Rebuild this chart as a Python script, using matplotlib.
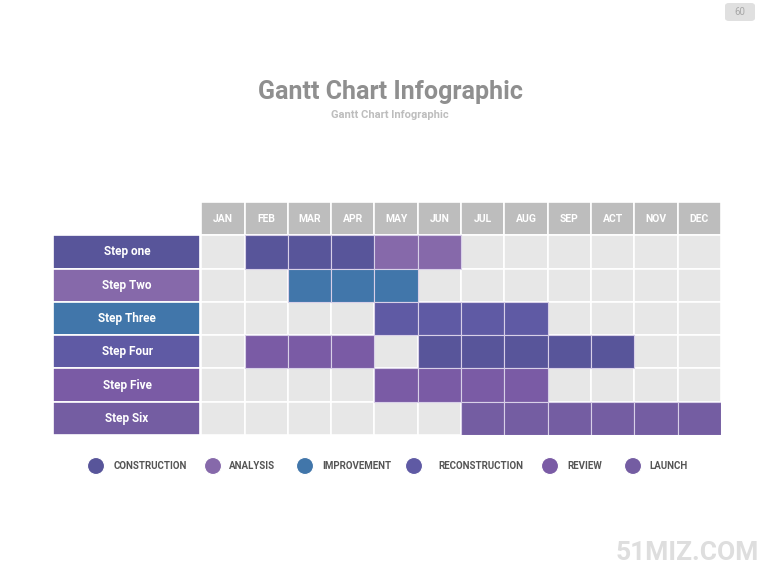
import matplotlib
matplotlib.use("Agg")
import matplotlib.pyplot as plt
from matplotlib.patches import Rectangle, FancyBboxPatch

plt.rcParams['font.family'] = ['Roboto', 'DejaVu Sans']

# ---------------- data ----------------
months = ["JAN", "FEB", "MAR", "APR", "MAY", "JUN", "JUL", "AUG", "SEP", "ACT", "NOV", "DEC"]
steps = ["Step one", "Step Two", "Step Three", "Step Four", "Step Five", "Step Six"]
categories = ["CONSTRUCTION", "ANALYSIS", "IMPROVEMENT", "RECONSTRUCTION", "REVIEW", "LAUNCH"]
category_colors = ["#58559A", "#8669AA", "#4176AA", "#5F5AA4", "#7A5BA5", "#745DA2"]
step_colors = ["#58559A", "#8669AA", "#4176AA", "#5F5AA4", "#7A5BA5", "#745DA2"]

# spans: (step index, first month index, last month index inclusive, category index)
span_step = [0, 0, 1, 2, 3, 3, 4, 5]
span_start = [1, 4, 2, 4, 1, 5, 4, 6]
span_end = [3, 5, 4, 7, 3, 9, 7, 11]
span_cat = [0, 1, 2, 3, 4, 0, 4, 5]

title = "Gantt Chart Infographic"
subtitle = "Gantt Chart Infographic"
page_no = "60"
watermark = "51MIZ.COM"

# ---------------- layout ----------------
W, H = 780, 585
legend_marker_x = [96, 213, 305, 414, 550, 633]     # pixel layout of legend items
legend_text_x = [114, 229, 322, 438, 567, 649]
legend_y = 466

fig = plt.figure(figsize=(W / 100, H / 100), dpi=100)
fig.patch.set_facecolor("white")

# grid axes: x in month units, y in row units (row 0 = header)
label_w = 148 / 43.25
ax = fig.add_axes([53 / W, (H - 435) / H, (721 - 53) / W, (435 - 202) / H])
ax.set_xlim(-label_w, 12)
ax.set_ylim(len(steps) + 1, 0)
ax.axis("off")

gap = dict(edgecolor="white", linewidth=1.2)

# header
for i, m in enumerate(months):
    ax.add_patch(Rectangle((i, 0), 1, 1, facecolor="#BDBDBD", **gap))
    ax.text(i + 0.5, 0.5, m, ha="center", va="center", color="white",
            fontsize=7.5, fontweight="bold")

# background cells and step labels
for r, s in enumerate(steps):
    y = r + 1
    ax.add_patch(Rectangle((-label_w, y), label_w - 0.03, 1, facecolor=step_colors[r], **gap))
    ax.text(-label_w / 2, y + 0.5, s, ha="center", va="center", color="white",
            fontsize=8.5, fontweight="bold")
    for i in range(len(months)):
        ax.add_patch(Rectangle((i, y), 1, 1, facecolor="#E7E7E7", **gap))

# spans
for st, a, b, c in zip(span_step, span_start, span_end, span_cat):
    for i in range(a, b + 1):
        ax.add_patch(Rectangle((i, st + 1), 1, 1, facecolor=category_colors[c],
                               edgecolor="#D8D0E8", linewidth=0.8))

# legend (pixel-positioned overlay axes)
lax = fig.add_axes([0, 0, 1, 1])
lax.set_xlim(0, W)
lax.set_ylim(H, 0)
lax.axis("off")
lax.scatter(legend_marker_x, [legend_y] * len(categories), s=150, c=category_colors,
            edgecolors="white", linewidths=0.8, zorder=3)
for tx, lab in zip(legend_text_x, categories):
    lax.text(tx, legend_y, lab, ha="left", va="center", fontsize=7, fontweight="bold",
             color="#555555")

# titles
fig.text(390 / W, 1 - 92 / H, title, ha="center", va="center", fontsize=18,
         fontweight="bold", color="#8F8F8F")
fig.text(390 / W, 1 - 115 / H, subtitle, ha="center", va="center", fontsize=8,
         fontweight="bold", color="#BDBDBD")

# page number box
fig.patches.append(FancyBboxPatch((725 / W, 1 - 21 / H), 30 / W, 18 / H,
                                  boxstyle="round,pad=0,rounding_size=0.005",
                                  transform=fig.transFigure, facecolor="#E0E0E0",
                                  edgecolor="none"))
fig.text(740 / W, 1 - 12 / H, page_no, ha="center", va="center", fontsize=7, color="#A8A8A8")

# watermark
fig.text(687 / W, 1 - 553 / H, watermark, ha="center", va="center", fontsize=19,
         fontweight="bold", color="#DEDEDE")

fig.savefig("out.png", dpi=100, facecolor="white")
